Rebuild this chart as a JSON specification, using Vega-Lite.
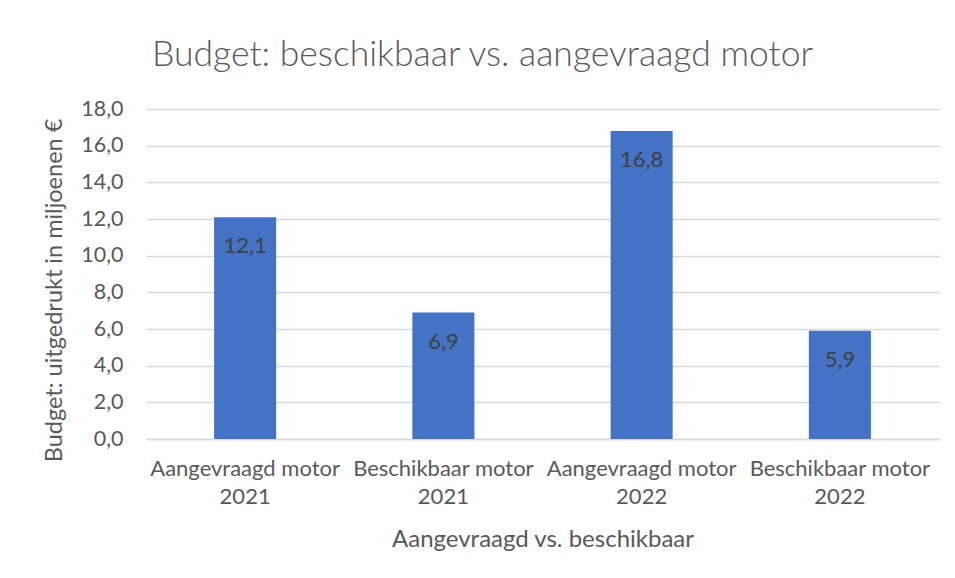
{
  "$schema": "https://vega.github.io/schema/vega-lite/v6.json",
  "width": 793,
  "height": 330,
  "autosize": {"type": "none"},
  "padding": {"left": 146, "top": 109, "right": 16, "bottom": 139},
  "background": "white",
  "title": {
    "text": "Budget: beschikbaar vs. aangevraagd motor",
    "font": "Lato",
    "fontWeight": 300,
    "fontSize": 35.5,
    "color": "#595959",
    "anchor": "middle",
    "dx": -60,
    "offset": 25
  },
  "data": {
    "values": [
      {"categorie": "Aangevraagd motor 2021", "waarde": 12.1},
      {"categorie": "Beschikbaar motor 2021", "waarde": 6.9},
      {"categorie": "Aangevraagd motor 2022", "waarde": 16.8},
      {"categorie": "Beschikbaar motor 2022", "waarde": 5.9}
    ]
  },
  "encoding": {
    "x": {
      "field": "categorie",
      "type": "nominal",
      "sort": null,
      "scale": {"paddingInner": 0.687, "paddingOuter": 0.3435},
      "axis": {
        "title": "Aangevraagd vs. beschikbaar",
        "titleFont": "Lato",
        "titleFontWeight": "normal",
        "titleFontSize": 24,
        "titleColor": "#595959",
        "titlePadding": 20,
        "labelFont": "Lato",
        "labelFontSize": 22,
        "labelColor": "#595959",
        "labelAngle": 0,
        "labelPadding": 19,
        "labelLineHeight": 28,
        "labelLimit": 0,
        "labelOverlap": false,
        "labelExpr": "[slice(datum.label, 0, -5), slice(datum.label, -4)]",
        "ticks": false,
        "domainColor": "#d9d9d9",
        "domainWidth": 1.5,
        "grid": false
      }
    },
    "y": {
      "field": "waarde",
      "type": "quantitative",
      "scale": {"domain": [0, 18], "nice": false},
      "axis": {
        "title": "Budget: uitgedrukt in miljoenen €",
        "titleFont": "Lato",
        "titleFontWeight": "normal",
        "titleFontSize": 23.5,
        "titleColor": "#595959",
        "titlePadding": 14,
        "titleY": 181,
        "values": [0, 2, 4, 6, 8, 10, 12, 14, 16, 18],
        "labelExpr": "replace(format(datum.value, '.1f'), '.', ',')",
        "labelFont": "Lato",
        "labelFontSize": 21.5,
        "labelColor": "#595959",
        "labelPadding": 23,
        "ticks": false,
        "domain": false,
        "grid": true,
        "gridColor": "#d9d9d9",
        "gridWidth": 1.5
      }
    }
  },
  "layer": [
    {
      "mark": {"type": "bar", "color": "#4472C4"}
    },
    {
      "mark": {"type": "text", "font": "Lato", "fontSize": 22, "color": "#404040", "baseline": "middle", "dy": 29},
      "encoding": {
        "text": {"field": "waarde", "type": "quantitative", "format": ".1f"}
      }
    }
  ],
  "config": {
    "view": {"stroke": null},
    "locale": {"number": {"decimal": ",", "thousands": ".", "grouping": [3], "currency": ["€", ""]}}
  }
}
